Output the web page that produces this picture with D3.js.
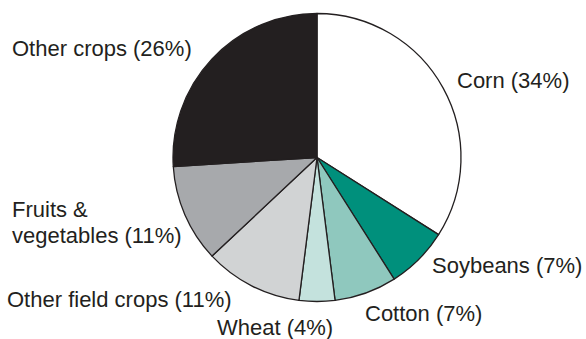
<!DOCTYPE html>
<html>
<head>
<meta charset="utf-8">
<script src="https://cdn.jsdelivr.net/npm/d3@7"></script>
<style>
  html, body { margin: 0; padding: 0; background: #ffffff; }
  svg { display: block; }
  text { font-family: "Liberation Sans", Arial, Helvetica, sans-serif; fill: #231f20; }
</style>
</head>
<body>
<svg id="chart" width="586" height="339"></svg>
<script>
// ---- data ----
const categories = ["Corn", "Soybeans", "Cotton", "Wheat", "Other field crops", "Fruits & vegetables", "Other crops"];
const shares = [34, 7, 7, 4, 11, 11, 26];
const labelLines = [
  ["Corn (34%)"],
  ["Soybeans (7%)"],
  ["Cotton (7%)"],
  ["Wheat (4%)"],
  ["Other field crops (11%)"],
  ["Fruits &", "vegetables (11%)"],
  ["Other crops (26%)"]
];

// ---- layout / style (kept separate from data) ----
const colors = ["#ffffff", "#00907c", "#8fc8be", "#c4e2dd", "#d1d3d4", "#a7a9ac", "#231f20"];
const labelAnchors = [
  [457, 88], [432, 273], [365, 321], [217, 335], [7, 307], [12, 217], [12, 56]
];
const cx = 317, cy = 157.5, radius = 144;

const svg = d3.select("#chart");
const data = categories.map((c, i) => ({ name: c, value: shares[i], color: colors[i], lines: labelLines[i], anchor: labelAnchors[i] }));

const pie = d3.pie().sort(null).value(d => d.value);
const arc = d3.arc().innerRadius(0).outerRadius(radius);

const g = svg.append("g").attr("transform", `translate(${cx},${cy})`);
g.selectAll("path")
  .data(pie(data))
  .join("path")
  .attr("d", arc)
  .attr("fill", d => d.data.color)
  .attr("stroke", "#231f20")
  .attr("stroke-width", 1.3)
  .attr("stroke-linejoin", "round");

const lbl = svg.append("g");
data.forEach(d => {
  const t = lbl.append("text")
    .attr("x", d.anchor[0])
    .attr("y", d.anchor[1])
    .attr("font-size", 22);
  d.lines.forEach((line, i) => {
    t.append("tspan")
      .attr("x", d.anchor[0])
      .attr("dy", i === 0 ? 0 : 25.5)
      .text(line);
  });
});
</script>
</body>
</html>
